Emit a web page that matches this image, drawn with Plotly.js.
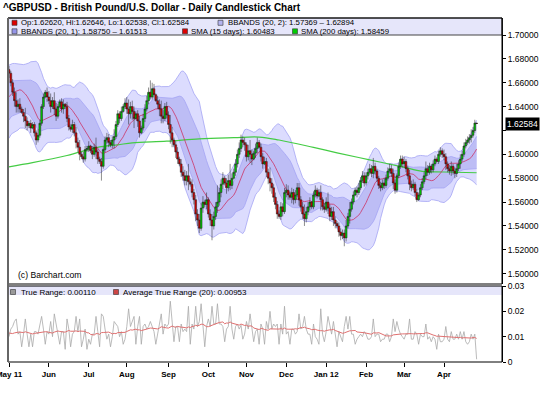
<!DOCTYPE html>
<html><head><meta charset="utf-8">
<script src="https://cdn.plot.ly/plotly-3.0.1.min.js"></script>
<style>html,body{margin:0;padding:0;background:#fff;}#chart{width:540px;height:394px;}</style>
</head><body><div id="chart"></div>
<script>
// ---- warm-up days (April 2011), needed by the 20-day bands / ATR at the left edge ----
const aprOpen  = [1.6030,1.6085,1.6110,1.6220,1.6340,1.6360,1.6320,1.6350,1.6280,1.6340,1.6330,1.6320,1.6270,1.6350,1.6430,1.6520,1.6520,1.6540,1.6610,1.6650,1.6680];
const aprHigh  = [1.6110,1.6150,1.6240,1.6360,1.6410,1.6400,1.6390,1.6370,1.6360,1.6390,1.6380,1.6340,1.6370,1.6450,1.6540,1.6560,1.6580,1.6630,1.6690,1.6740,1.6746];
const aprLow   = [1.6010,1.6050,1.6090,1.6200,1.6300,1.6290,1.6280,1.6250,1.6260,1.6290,1.6270,1.6200,1.6250,1.6330,1.6410,1.6480,1.6490,1.6510,1.6590,1.6620,1.6650];
const aprClose = [1.6085,1.6110,1.6220,1.6340,1.6360,1.6320,1.6350,1.6280,1.6340,1.6330,1.6320,1.6270,1.6350,1.6430,1.6520,1.6520,1.6540,1.6610,1.6650,1.6680,1.6710];

// ---- daily OHLC, 2 May 2011 .. 26 Apr 2012 (one row per month) ----
const open = [
 1.6710,1.6680,1.6600,1.6520,1.6450,1.6400,1.6420,1.6380,1.6350,1.6320,1.6280,1.6240,1.6260,1.6220,1.6250,1.6180,1.6120,1.6160,1.6260,1.6400,1.6480,1.6520,
 1.6480,1.6450,1.6400,1.6450,1.6380,1.6320,1.6400,1.6440,1.6380,1.6420,1.6400,1.6300,1.6230,1.6210,1.6250,1.6180,1.6100,1.6060,1.6000,1.5980,1.5960,1.6040,
 1.6050,1.6070,1.6030,1.6000,1.6060,1.6020,1.5960,1.5940,1.5900,1.6040,1.6120,1.6140,1.6100,1.6080,1.6120,1.6150,1.6250,1.6340,1.6300,1.6360,1.6400,
 1.6430,1.6380,1.6340,1.6400,1.6360,1.6300,1.6340,1.6280,1.6180,1.6220,1.6300,1.6380,1.6450,1.6520,1.6480,1.6550,1.6500,1.6450,1.6420,1.6380,1.6320,1.6300,1.6400,
 1.6330,1.6250,1.6180,1.6120,1.6080,1.6020,1.5960,1.5920,1.5850,1.5820,1.5780,1.5820,1.5770,1.5750,1.5680,1.5620,1.5500,1.5450,1.5380,1.5550,1.5600,1.5580,
 1.5620,1.5500,1.5450,1.5400,1.5480,1.5560,1.5600,1.5680,1.5750,1.5800,1.5760,1.5720,1.5780,1.5740,1.5800,1.5850,1.5920,1.6000,1.6050,1.6120,1.6100,
 1.6080,1.5980,1.6030,1.6000,1.5960,1.6010,1.6050,1.6100,1.6060,1.5980,1.5920,1.5940,1.5850,1.5800,1.5760,1.5720,1.5640,1.5580,1.5500,1.5480,1.5560,1.5520,
 1.5680,1.5700,1.5660,1.5640,1.5680,1.5620,1.5660,1.5720,1.5620,1.5560,1.5500,1.5460,1.5520,1.5560,1.5600,1.5560,1.5660,1.5700,1.5650,1.5680,1.5620,1.5560,
 1.5540,1.5600,1.5550,1.5480,1.5520,1.5450,1.5420,1.5400,1.5350,1.5320,1.5340,1.5300,1.5400,1.5480,1.5540,1.5600,1.5660,1.5700,1.5680,1.5720,1.5780,1.5820,
 1.5760,1.5820,1.5850,1.5880,1.5840,1.5900,1.5860,1.5800,1.5740,1.5720,1.5760,1.5740,1.5800,1.5860,1.5880,1.5840,1.5760,1.5700,1.5820,1.5900,1.5960,
 1.5920,1.5940,1.5880,1.5820,1.5750,1.5720,1.5750,1.5680,1.5620,1.5660,1.5720,1.5770,1.5820,1.5880,1.5850,1.5900,1.5870,1.5920,1.5960,1.5940,1.6000,1.6030,
 1.6000,1.5980,1.5920,1.5880,1.5860,1.5900,1.5860,1.5840,1.5880,1.5920,1.5960,1.6000,1.6070,1.6100,1.6120,1.6140,1.6160,1.6200,1.62620];
const high = [
 1.6740,1.6700,1.6630,1.6560,1.6520,1.6460,1.6470,1.6400,1.6380,1.6390,1.6310,1.6280,1.6290,1.6270,1.6270,1.6200,1.6210,1.6290,1.6420,1.6510,1.6540,1.6560,
 1.6530,1.6510,1.6480,1.6520,1.6430,1.6420,1.6460,1.6470,1.6460,1.6430,1.6440,1.6330,1.6250,1.6290,1.6270,1.6230,1.6140,1.6120,1.6020,1.6020,1.6070,1.6070,
 1.6110,1.6080,1.6070,1.6090,1.6140,1.6040,1.5980,1.5970,1.6060,1.6150,1.6180,1.6170,1.6120,1.6150,1.6210,1.6280,1.6370,1.6360,1.6400,1.6420,1.6470,
 1.6480,1.6460,1.6440,1.6450,1.6400,1.6360,1.6370,1.6320,1.6240,1.6340,1.6420,1.6490,1.6560,1.6620,1.6600,1.6590,1.6510,1.6490,1.6460,1.6450,1.6370,1.6430,1.6440,
 1.6360,1.6330,1.6230,1.6140,1.6110,1.6060,1.5980,1.5960,1.5900,1.5870,1.5860,1.5920,1.5800,1.5790,1.5710,1.5660,1.5540,1.5500,1.5590,1.5650,1.5620,1.5680,
 1.5640,1.5540,1.5500,1.5520,1.5600,1.5740,1.5720,1.5790,1.5850,1.5820,1.5800,1.5830,1.5920,1.5840,1.5880,1.5960,1.6040,1.6100,1.6165,1.6150,1.6140,
 1.6100,1.6080,1.6120,1.6040,1.6030,1.6090,1.6140,1.6120,1.6090,1.6010,1.5980,1.5970,1.5880,1.5890,1.5800,1.5750,1.5680,1.5610,1.5530,1.5600,1.5590,1.5720,
 1.5750,1.5740,1.5690,1.5720,1.5710,1.5700,1.5760,1.5760,1.5650,1.5600,1.5580,1.5560,1.5600,1.5640,1.5610,1.5690,1.5740,1.5720,1.5710,1.5740,1.5640,1.5590,
 1.5640,1.5680,1.5580,1.5560,1.5560,1.5480,1.5440,1.5430,1.5380,1.5370,1.5370,1.5450,1.5510,1.5600,1.5630,1.5690,1.5720,1.5730,1.5760,1.5810,1.5860,1.5850,
 1.5850,1.5880,1.5920,1.5910,1.5970,1.5930,1.5880,1.5820,1.5770,1.5790,1.5800,1.5830,1.5890,1.5920,1.5910,1.5880,1.5790,1.5840,1.5930,1.5990,1.5990,
 1.5980,1.5960,1.5900,1.5870,1.5780,1.5790,1.5770,1.5710,1.5680,1.5750,1.5800,1.5850,1.5940,1.5910,1.5930,1.5920,1.5950,1.5990,1.5975,1.6030,1.6060,1.6050,
 1.6040,1.6010,1.5940,1.5910,1.5940,1.5920,1.5890,1.5920,1.5950,1.6000,1.6030,1.6100,1.6130,1.6150,1.6170,1.6210,1.6230,1.6290,1.62646];
const low = [
 1.6640,1.6570,1.6490,1.6400,1.6350,1.6350,1.6350,1.6340,1.6270,1.6220,1.6200,1.6220,1.6180,1.6210,1.6150,1.6080,1.6100,1.6140,1.6240,1.6380,1.6470,1.6440,
 1.6420,1.6350,1.6380,1.6330,1.6280,1.6300,1.6390,1.6350,1.6340,1.6380,1.6270,1.6200,1.6190,1.6180,1.6150,1.6050,1.6020,1.5950,1.5960,1.5930,1.5940,1.6020,
 1.6020,1.6010,1.5960,1.5980,1.5960,1.5920,1.5920,1.5780,1.5880,1.6020,1.6090,1.6060,1.6060,1.6050,1.6050,1.6130,1.6230,1.6260,1.6280,1.6350,1.6380,
 1.6340,1.6250,1.6300,1.6290,1.6220,1.6290,1.6230,1.6140,1.6170,1.6200,1.6270,1.6360,1.6420,1.6460,1.6460,1.6470,1.6440,1.6380,1.6320,1.6260,1.6260,1.6280,1.6300,
 1.6210,1.6090,1.6060,1.6060,1.5970,1.5920,1.5900,1.5810,1.5780,1.5740,1.5740,1.5700,1.5730,1.5640,1.5580,1.5440,1.5400,1.5340,1.5360,1.5510,1.5560,1.5540,
 1.5470,1.5400,1.5280,1.5370,1.5450,1.5510,1.5570,1.5640,1.5710,1.5740,1.5670,1.5690,1.5700,1.5710,1.5790,1.5820,1.5890,1.5970,1.6020,1.6060,1.6030,
 1.5940,1.5950,1.5930,1.5910,1.5950,1.5970,1.6010,1.6050,1.5940,1.5880,1.5910,1.5810,1.5750,1.5690,1.5670,1.5600,1.5540,1.5460,1.5460,1.5450,1.5480,1.5500,
 1.5640,1.5620,1.5620,1.5590,1.5580,1.5590,1.5640,1.5570,1.5520,1.5460,1.5400,1.5430,1.5490,1.5530,1.5540,1.5540,1.5640,1.5630,1.5640,1.5530,1.5530,1.5510,
 1.5520,1.5500,1.5440,1.5450,1.5400,1.5380,1.5380,1.5310,1.5280,1.5290,1.5230,1.5270,1.5380,1.5420,1.5520,1.5580,1.5650,1.5640,1.5660,1.5700,1.5760,1.5730,
 1.5740,1.5790,1.5830,1.5810,1.5800,1.5830,1.5770,1.5710,1.5690,1.5700,1.5710,1.5720,1.5780,1.5840,1.5810,1.5710,1.5670,1.5680,1.5800,1.5880,1.5890,
 1.5890,1.5850,1.5790,1.5700,1.5690,1.5700,1.5650,1.5600,1.5610,1.5640,1.5700,1.5750,1.5790,1.5820,1.5830,1.5840,1.5850,1.5900,1.5925,1.5920,1.5980,1.5970,
 1.5950,1.5870,1.5850,1.5830,1.5820,1.5830,1.5800,1.5810,1.5860,1.5880,1.5940,1.5980,1.6050,1.6080,1.6090,1.6100,1.6140,1.6180,1.62538];
const close = [
 1.6680,1.6600,1.6520,1.6450,1.6400,1.6420,1.6380,1.6350,1.6320,1.6280,1.6240,1.6260,1.6220,1.6250,1.6180,1.6120,1.6160,1.6260,1.6400,1.6480,1.6520,1.6480,
 1.6450,1.6400,1.6450,1.6380,1.6320,1.6400,1.6440,1.6380,1.6420,1.6400,1.6300,1.6230,1.6210,1.6250,1.6180,1.6100,1.6060,1.6000,1.5980,1.5960,1.6040,1.6050,
 1.6070,1.6030,1.6000,1.6060,1.6020,1.5960,1.5940,1.5900,1.6040,1.6120,1.6140,1.6100,1.6080,1.6120,1.6150,1.6250,1.6340,1.6300,1.6360,1.6400,1.6430,
 1.6380,1.6340,1.6400,1.6360,1.6300,1.6340,1.6280,1.6180,1.6220,1.6300,1.6380,1.6450,1.6520,1.6480,1.6550,1.6500,1.6450,1.6420,1.6380,1.6320,1.6300,1.6400,1.6330,
 1.6250,1.6180,1.6120,1.6080,1.6020,1.5960,1.5920,1.5850,1.5820,1.5780,1.5820,1.5770,1.5750,1.5680,1.5620,1.5500,1.5450,1.5380,1.5550,1.5600,1.5580,1.5620,
 1.5500,1.5450,1.5400,1.5480,1.5560,1.5600,1.5680,1.5750,1.5800,1.5760,1.5720,1.5780,1.5740,1.5800,1.5850,1.5920,1.6000,1.6050,1.6120,1.6100,1.6080,
 1.5980,1.6030,1.6000,1.5960,1.6010,1.6050,1.6100,1.6060,1.5980,1.5920,1.5940,1.5850,1.5800,1.5760,1.5720,1.5640,1.5580,1.5500,1.5480,1.5560,1.5520,1.5680,
 1.5700,1.5660,1.5640,1.5680,1.5620,1.5660,1.5720,1.5620,1.5560,1.5500,1.5460,1.5520,1.5560,1.5600,1.5560,1.5660,1.5700,1.5650,1.5680,1.5620,1.5560,1.5540,
 1.5600,1.5550,1.5480,1.5520,1.5450,1.5420,1.5400,1.5350,1.5320,1.5340,1.5300,1.5400,1.5480,1.5540,1.5600,1.5660,1.5700,1.5680,1.5720,1.5780,1.5820,1.5760,
 1.5820,1.5850,1.5880,1.5840,1.5900,1.5860,1.5800,1.5740,1.5720,1.5760,1.5740,1.5800,1.5860,1.5880,1.5840,1.5760,1.5700,1.5820,1.5900,1.5960,1.5920,
 1.5940,1.5880,1.5820,1.5750,1.5720,1.5750,1.5680,1.5620,1.5660,1.5720,1.5770,1.5820,1.5880,1.5850,1.5900,1.5870,1.5920,1.5960,1.5940,1.6000,1.6030,1.6000,
 1.5980,1.5920,1.5880,1.5860,1.5900,1.5860,1.5840,1.5880,1.5920,1.5960,1.6000,1.6070,1.6100,1.6120,1.6140,1.6160,1.6200,1.6262,1.62584];

// 200-day SMA at a few dates
const sma200Dates = ['2011-05-02','2011-05-19','2011-06-15','2011-07-11','2011-07-25','2011-08-04','2011-08-31','2011-09-26','2011-10-21','2011-11-10','2011-11-25','2011-12-22','2012-01-10','2012-02-03','2012-02-29','2012-03-15','2012-04-02','2012-04-26'];
const sma200Vals  = [1.5895,1.5930,1.5990,1.6063,1.6080,1.6096,1.6110,1.6130,1.6140,1.6145,1.6120,1.6058,1.6013,1.5954,1.5895,1.5858,1.5852,1.58459];

const monthLabels = ['May 11','Jun','Jul','Aug','Sep','Oct','Nov','Dec','Jan 12','Feb','Mar','Apr'];
const priceTickVals = [1.50,1.52,1.54,1.56,1.58,1.60,1.62,1.64,1.66,1.68,1.70];
const priceTickText = ['1.50000','1.52000','1.54000','1.56000','1.58000','1.60000','','1.64000','1.66000','1.68000','1.70000'];
const trTickVals = [0,0.01,0.02,0.03];
const trTickText = ['0','0.01','0.02','0.03'];

const titleText = '^GBPUSD - British Pound/U.S. Dollar - Daily Candlestick Chart';
const legendTexts = ['Op:1.62620, Hi:1.62646, Lo:1.62538, Cl:1.62584','BBANDS (20, 2): 1.57369 \u2013 1.62894','BBANDS (20, 1): 1.58750 \u2013 1.61513','SMA (15 days): 1.60483','SMA (200 days): 1.58459'];
const lowerLegendTexts = ['True Range: 0.00110','Average True Range (20): 0.00953'];
const lastPriceText = '1.62584';
const lastPrice = 1.62584;

// ---------- derived ----------
const N0 = aprClose.length;
const Hh = aprHigh.concat(high), Ll = aprLow.concat(low), C = aprClose.concat(close);
const days = [];
{ let t = Date.UTC(2011,3,1); const end = Date.UTC(2012,3,26);
  while (t <= end) { const d = new Date(t); const w = d.getUTCDay(); if (w>0 && w<6) days.push(d.toISOString().slice(0,10)); t += 86400000; } }
const dayIdx = {}; days.forEach((s,k)=>{ dayIdx[s] = k - N0; });
const xs = close.map((_,i)=>i);
const tickIdx = [];
for (let k = N0; k < days.length; k++) { if (k === N0 || days[k].slice(5,7) !== days[k-1].slice(5,7)) tickIdx.push(k - N0); }

const mean = a => a.reduce((s,v)=>s+v,0)/a.length;
const TR = C.map((c,k)=> k===0 ? Hh[0]-Ll[0] : Math.max(Hh[k]-Ll[k], Math.abs(Hh[k]-C[k-1]), Math.abs(Ll[k]-C[k-1])));
const up2=[],lo2=[],up1=[],lo1=[],sma15=[],tr=[],atr=[];
for (let i=0;i<close.length;i++){
  const k=i+N0; const w=C.slice(k-19,k+1); const m=mean(w);
  const sd=Math.sqrt(mean(w.map(v=>(v-m)*(v-m))));
  up2.push(m+2*sd); lo2.push(m-2*sd); up1.push(m+sd); lo1.push(m-sd);
  sma15.push(mean(C.slice(k-14,k+1)));
  tr.push(TR[k]); atr.push(mean(TR.slice(k-19,k+1)));
}
const hiC = high.map((h,i)=>Math.max(h,open[i],close[i]));
const loC = low.map((l,i)=>Math.min(l,open[i],close[i]));

// ---------- styling ----------
const FONT = 'Liberation Sans, Arial, sans-serif';
const bandLine = '#a4a4f4', outerFill = '#dcdcfe', innerFill = '#bdbdf5';
const px = x => (x-8)/494, py = y => (362-y)/344;
const PRICE_RANGE = [1.49137,1.71424];

const traces = [
  {x:xs,y:up2,type:'scatter',mode:'lines',line:{color:bandLine,width:0.8},hoverinfo:'skip'},
  {x:xs,y:lo2,type:'scatter',mode:'lines',line:{color:bandLine,width:0.8},fill:'tonexty',fillcolor:outerFill,hoverinfo:'skip'},
  {x:xs,y:up1,type:'scatter',mode:'lines',line:{color:bandLine,width:0.8},hoverinfo:'skip'},
  {x:xs,y:lo1,type:'scatter',mode:'lines',line:{color:bandLine,width:0.8},fill:'tonexty',fillcolor:innerFill,hoverinfo:'skip'},
  {x:sma200Dates.map(s=>dayIdx[s]),y:sma200Vals,type:'scatter',mode:'lines',line:{color:'#44cc44',width:1.2,shape:'spline'},hoverinfo:'skip'},
  {x:xs,y:sma15,type:'scatter',mode:'lines',line:{color:'#cc3366',width:0.8},hoverinfo:'skip'},
  {x:xs,open:open,high:hiC,low:loC,close:close,type:'candlestick',xaxis:'x',yaxis:'y3',whiskerwidth:0,
   increasing:{line:{color:'#1a1a1a',width:0.5},fillcolor:'#00c800'},
   decreasing:{line:{color:'#1a1a1a',width:0.5},fillcolor:'#d40000'},hoverinfo:'skip'},
  {x:xs,y:tr,type:'scatter',mode:'lines',line:{color:'#aaaaaa',width:0.8},xaxis:'x',yaxis:'y2',hoverinfo:'skip'},
  {x:xs,y:atr,type:'scatter',mode:'lines',line:{color:'#e07070',width:1},xaxis:'x',yaxis:'y2',hoverinfo:'skip'}
];

function sq(x,y,color){ return {type:'rect',xref:'paper',yref:'paper',x0:px(x),x1:px(x+5),y0:py(y+5),y1:py(y),fillcolor:color,line:{color:'#333',width:0.6},layer:'above'}; }
function txt(x,y,t,size){ return {xref:'paper',yref:'paper',x:px(x),y:py(y),xanchor:'left',yanchor:'middle',text:t,showarrow:false,borderpad:0,font:{family:FONT,size:size||7.8,color:'#000'}}; }

const shapes = [
  {type:'rect',xref:'paper',yref:'paper',x0:0,x1:1,y0:py(35),y1:1,fillcolor:'#e6e6fa',line:{color:'#444',width:1},layer:'above'},
  {type:'rect',xref:'paper',yref:'paper',x0:0,x1:1,y0:py(295),y1:py(286),fillcolor:'#e6e6fa',line:{width:0},layer:'above'},
  {type:'rect',xref:'paper',yref:'paper',x0:0,x1:1,y0:py(284),y1:1,line:{color:'#000',width:1},layer:'above'},
  {type:'rect',xref:'paper',yref:'paper',x0:0,x1:1,y0:0,y1:py(286),line:{color:'#000',width:1},layer:'above'},
  {type:'line',xref:'paper',yref:'paper',x0:0,x1:0,y0:0,y1:1,line:{color:'#666',width:2},layer:'above'},
  sq(12,20.3,'#dd0000'), sq(218,20.3,'#b4b4f0'),
  sq(12,28.8,'#9494e8'), sq(182.5,28.8,'#dd0000'), sq(292.5,28.8,'#00cc00'),
  sq(10.5,289.5,'#999999'), sq(113.5,289.5,'#cc4444')
];
const annotations = [
  txt(20,22.4,legendTexts[0]), txt(226.5,22.4,legendTexts[1]),
  txt(20,31.3,legendTexts[2]), txt(190,31.3,legendTexts[3]), txt(300,31.3,legendTexts[4]),
  txt(19.5,292.3,lowerLegendTexts[0],8), txt(122,292.3,lowerLegendTexts[1],8),
  txt(17,275,'(c) Barchart.com',8.6),
  {xref:'paper',yref:'y',x:1,y:lastPrice,xanchor:'left',yanchor:'middle',xshift:3,text:lastPriceText,showarrow:false,
   bgcolor:'#000',borderpad:1,font:{family:FONT,size:8.5,color:'#fff'}}
];

const layout = {
  width:540,height:394,margin:{l:8,r:38,t:18,b:32},
  paper_bgcolor:'#fff',plot_bgcolor:'#fff',showlegend:false,boxgap:0,boxgroupgap:0,
  title:{text:titleText,xref:'container',yref:'container',x:3/540,xanchor:'left',y:1-7.5/394,yanchor:'middle',
         font:{family:FONT,size:10,color:'#000',weight:'bold'}},
  xaxis:{domain:[0,1],range:[-0.55,272],anchor:'y2',tickmode:'array',tickvals:tickIdx,ticktext:monthLabels,
         ticks:'outside',ticklen:4,tickcolor:'#000',tickfont:{family:FONT,size:8,color:'#000',weight:'bold'},
         ticklabeloverflow:'allow',
         showgrid:false,zeroline:false,showline:false,rangeslider:{visible:false},fixedrange:true},
  yaxis:{domain:[py(284),1],range:PRICE_RANGE,side:'right',anchor:'x',tickmode:'array',tickvals:priceTickVals,ticktext:priceTickText,
         ticks:'outside',ticklen:3,tickcolor:'#000',tickfont:{family:FONT,size:8.5,color:'#000'},
         showgrid:false,zeroline:false,showline:true,linecolor:'#000',fixedrange:true},
  yaxis3:{overlaying:'y',range:PRICE_RANGE,side:'right',anchor:'x',visible:false,showgrid:false,zeroline:false,fixedrange:true},
  yaxis2:{domain:[0,py(286)],range:[0,0.03],side:'right',anchor:'x',tickmode:'array',tickvals:trTickVals,ticktext:trTickText,
         ticks:'outside',ticklen:3,tickcolor:'#000',tickfont:{family:FONT,size:8.5,color:'#000'},
         showgrid:false,zeroline:false,showline:true,linecolor:'#000',fixedrange:true},
  shapes:shapes,annotations:annotations
};
Plotly.newPlot('chart',traces,layout,{displayModeBar:false,staticPlot:true});
</script></body></html>
